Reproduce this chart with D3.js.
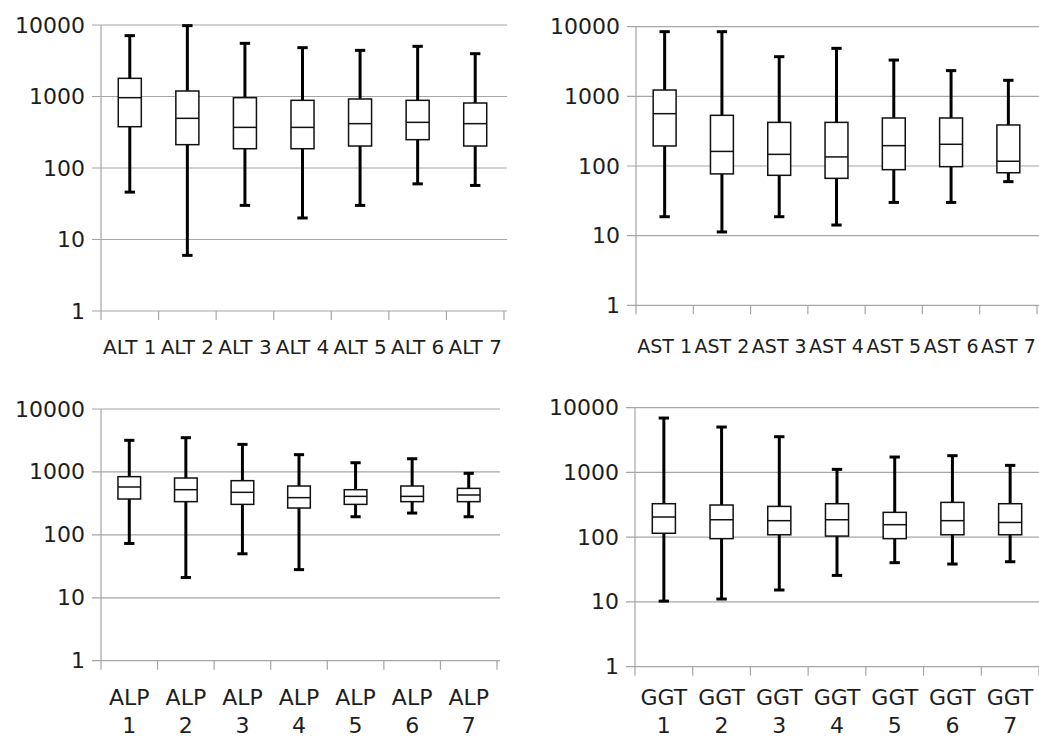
<!DOCTYPE html>
<html>
<head>
<meta charset="utf-8">
<script src="https://d3js.org/d3.v7.min.js"></script>
<style>
  body { margin: 0; background: #fff; }
  svg { display: block; }
  .grid line { stroke: #a6a6a6; stroke-width: 1.2; }
  .axis text { font-family: 'DejaVu Sans', sans-serif; font-size: 22px; fill: #1e1e1e; }
  .axis path, .axis line { display: none; }
  .frame line { stroke: #a6a6a6; stroke-width: 1.2; }
  .whisker { stroke: #000; stroke-width: 3; }
  .box { fill: #fff; stroke: #111; stroke-width: 1.5; }
  .median { stroke: #111; stroke-width: 1.5; }
</style>
</head>
<body>
<div id="chart"></div>
<script>
// categories
var altCats = ["ALT 1", "ALT 2", "ALT 3", "ALT 4", "ALT 5", "ALT 6", "ALT 7"];
var astCats = ["AST 1", "AST 2", "AST 3", "AST 4", "AST 5", "AST 6", "AST 7"];
var alpCats = ["ALP 1", "ALP 2", "ALP 3", "ALP 4", "ALP 5", "ALP 6", "ALP 7"];
var ggtCats = ["GGT 1", "GGT 2", "GGT 3", "GGT 4", "GGT 5", "GGT 6", "GGT 7"];

// box stats
var altMin = [46, 6, 30, 20, 30, 60, 57];
var altQ1  = [378, 212, 186, 186, 203, 249, 203];
var altMed = [963, 495, 370, 370, 417, 435, 417];
var altQ3  = [1795, 1194, 963, 884, 923, 884, 811];
var altMax = [7100, 9800, 5540, 4820, 4420, 5030, 3970];

var astMin = [18.7, 11.3, 18.7, 14.2, 30, 30, 59.6];
var astQ1  = [194, 77, 73.5, 66.5, 88.6, 97.8, 80];
var astMed = [564, 162, 147, 135, 196, 205, 117];
var astQ3  = [1233, 534, 423, 423, 489, 489, 388];
var astMax = [8480, 8480, 3710, 4890, 3320, 2340, 1700];

var alpMin = [73, 21, 50, 28, 194, 222, 194];
var alpQ1  = [371, 337, 305, 267, 305, 337, 337];
var alpMed = [576, 522, 474, 390, 409, 409, 430];
var alpQ3  = [841, 800, 726, 597, 522, 597, 548];
var alpMax = [3180, 3500, 2740, 1880, 1400, 1620, 950];

var ggtMin = [10.3, 11.1, 15.3, 25.7, 40.4, 38.5, 41.8];
var ggtQ1  = [115, 95, 109, 104, 95, 109, 109];
var ggtMed = [205, 186, 180, 186, 156, 180, 169];
var ggtQ3  = [329, 314, 299, 329, 242, 345, 329];
var ggtMax = [6925, 5030, 3565, 1116, 1730, 1815, 1286];

var yTicks = [1, 10, 100, 1000, 10000];

var panels = [
  { cats: altCats, min: altMin, q1: altQ1, med: altMed, q3: altQ3, max: altMax,
    left: 101, right: 504, top: 25, bottom: 311, labelY: 354, wrap: false, xSize: 20 },
  { cats: astCats, min: astMin, q1: astQ1, med: astMed, q3: astQ3, max: astMax,
    left: 636, right: 1037, top: 26.7, bottom: 305.3, labelY: 353, wrap: false, xSize: 19 },
  { cats: alpCats, min: alpMin, q1: alpQ1, med: alpMed, q3: alpQ3, max: alpMax,
    left: 101, right: 497, top: 409, bottom: 660.7, labelY: 705, wrap: true, xSize: 22 },
  { cats: ggtCats, min: ggtMin, q1: ggtQ1, med: ggtMed, q3: ggtQ3, max: ggtMax,
    left: 635, right: 1039, top: 407.7, bottom: 666.7, labelY: 705, wrap: true, xSize: 22 }
];

var svg = d3.select("#chart").append("svg")
  .attr("width", 1039)
  .attr("height", 740);

panels.forEach(function(p) {
  var x = d3.scaleBand().domain(p.cats).range([p.left, p.right]).padding(0);
  var y = d3.scaleLog().domain([1, 10000]).range([p.bottom, p.top]);
  var bw = x.bandwidth();

  var g = svg.append("g");

  // gridlines (stick out a bit on the left like tick marks)
  g.append("g").attr("class", "grid")
    .selectAll("line").data(yTicks).enter().append("line")
    .attr("x1", p.left - 9).attr("x2", p.right + 3)
    .attr("y1", function(d) { return y(d); })
    .attr("y2", function(d) { return y(d); });

  // vertical axis line and category boundary ticks
  var frame = g.append("g").attr("class", "frame");
  frame.append("line")
    .attr("x1", p.left).attr("x2", p.left)
    .attr("y1", y(10000)).attr("y2", p.bottom + 9);
  var bounds = p.cats.map(function(c) { return x(c); }).concat([p.right]);
  frame.selectAll("line.tk").data(bounds.slice(1)).enter().append("line")
    .attr("class", "tk")
    .attr("x1", function(d) { return d; }).attr("x2", function(d) { return d; })
    .attr("y1", p.bottom).attr("y2", p.bottom + 9);

  // y labels
  g.append("g").attr("class", "axis")
    .attr("transform", "translate(" + p.left + ",0)")
    .call(d3.axisLeft(y).tickValues(yTicks).tickFormat(d3.format("d"))
      .tickSize(0).tickPadding(16));

  // x labels
  var xa = g.append("g").attr("class", "axis")
    .attr("transform", "translate(0," + p.bottom + ")")
    .call(d3.axisBottom(x).tickSize(0));
  xa.selectAll("text").each(function(d) {
    var t = d3.select(this).text(null).attr("y", null).attr("dy", null)
      .attr("transform", null).style("font-size", p.xSize + "px");
    if (p.wrap) {
      var parts = d.split(" ");
      t.append("tspan").attr("x", 0).attr("y", p.labelY - p.bottom).text(parts[0]);
      t.append("tspan").attr("x", 0).attr("y", p.labelY - p.bottom + 28).text(parts[1]);
    } else {
      t.append("tspan").attr("x", 0).attr("y", p.labelY - p.bottom).text(d);
    }
  });

  // boxes
  var items = p.cats.map(function(c, i) {
    return { cat: c, min: p.min[i], q1: p.q1[i], med: p.med[i], q3: p.q3[i], max: p.max[i] };
  });
  var bx = g.selectAll("g.item").data(items).enter().append("g").attr("class", "item");
  var cx = function(d) { return x(d.cat) + bw / 2; };
  var boxW = bw * 0.4, capW = bw * 0.18;

  bx.append("line").attr("class", "whisker")
    .attr("x1", cx).attr("x2", cx)
    .attr("y1", function(d) { return y(d.max); })
    .attr("y2", function(d) { return y(d.min); });
  bx.append("line").attr("class", "whisker")
    .attr("x1", function(d) { return cx(d) - capW / 2; })
    .attr("x2", function(d) { return cx(d) + capW / 2; })
    .attr("y1", function(d) { return y(d.max); })
    .attr("y2", function(d) { return y(d.max); });
  bx.append("line").attr("class", "whisker")
    .attr("x1", function(d) { return cx(d) - capW / 2; })
    .attr("x2", function(d) { return cx(d) + capW / 2; })
    .attr("y1", function(d) { return y(d.min); })
    .attr("y2", function(d) { return y(d.min); });
  bx.append("rect").attr("class", "box")
    .attr("x", function(d) { return cx(d) - boxW / 2; })
    .attr("width", boxW)
    .attr("y", function(d) { return y(d.q3); })
    .attr("height", function(d) { return y(d.q1) - y(d.q3); });
  bx.append("line").attr("class", "median")
    .attr("x1", function(d) { return cx(d) - boxW / 2; })
    .attr("x2", function(d) { return cx(d) + boxW / 2; })
    .attr("y1", function(d) { return y(d.med); })
    .attr("y2", function(d) { return y(d.med); });
});
</script>
</body>
</html>
